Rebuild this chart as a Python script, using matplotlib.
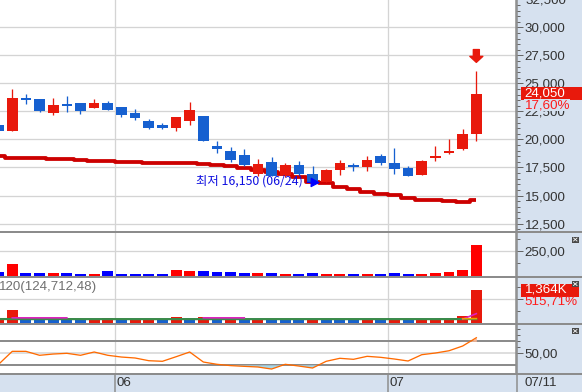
import numpy as np
import matplotlib
matplotlib.use("Agg")
import matplotlib.pyplot as plt
from matplotlib.patches import Rectangle
from matplotlib.lines import Line2D
import matplotlib.transforms as mtrans

plt.rcParams['font.family'] = ['Liberation Sans Narrow', 'Liberation Sans', 'DejaVu Sans']

# ---------------- data ----------------
opens = [21280, 20770, 23650, 23600, 22370, 23110, 23240, 22820, 23240, 22880, 22350, 21630,
         21280, 21030, 21660, 22080, 19430, 18950, 18600, 16900, 17970, 16810, 17700, 16960,
         16210, 17260, 17730, 17550, 18530, 17880, 17440, 16870, 18390, 18800, 19160, 20450]
highs = [21300, 24520, 24040, 23600, 23690, 23870, 23240, 23600, 23450, 22880, 22700, 21810,
         21450, 21990, 23330, 22080, 19850, 19340, 19130, 18240, 18450, 17860, 18120, 17610,
         17410, 18150, 17880, 18510, 18660, 19250, 17640, 18150, 19430, 20030, 20950, 26100]
lows = [20700, 20770, 23120, 22440, 22170, 22460, 22290, 22820, 22640, 22020, 21750, 20950,
        20950, 20770, 21300, 19870, 18800, 18000, 17640, 16750, 16780, 16630, 16870, 16150,
        16210, 16840, 17200, 17170, 17730, 16930, 16720, 16870, 18090, 18660, 19040, 19870]
closes = [20770, 23700, 23600, 22530, 23060, 23070, 22550, 23240, 22640, 22140, 21900, 21030,
          21010, 21990, 22640, 19870, 19160, 18210, 17730, 17790, 16780, 17700, 16960, 16210,
          17320, 17940, 17590, 18150, 17910, 17370, 16750, 18060, 18530, 18950, 20450, 24050]
ma_line = [18510, 18390, 18360, 18330, 18270, 18270, 18210, 18120, 18090, 18030, 17970, 17910,
           17880, 17880, 17880, 17770, 17680, 17590, 17460, 17320, 17140, 16930, 16630, 16210,
           16100, 15770, 15560, 15350, 15180, 15020, 14820, 14640, 14580, 14490, 14460, 14580]
volume = [41, 123, 31, 31, 31, 31, 20, 20, 51, 20, 20, 20, 20, 62, 51, 51, 41, 41,
          31, 31, 31, 20, 20, 31, 20, 20, 20, 20, 20, 31, 20, 20, 31, 41, 62, 318]
vol_k = [150, 530, 140, 135, 130, 125, 120, 140, 200, 150, 155, 160, 140, 245, 200, 245, 150, 160,
         140, 150, 140, 130, 125, 140, 130, 125, 120, 140, 130, 145, 135, 150, 165, 200, 280, 1364]
vol_ma_long = [152, 152, 151, 151, 151, 151, 150, 150, 150, 150, 150, 150, 150, 150, 150, 150, 150, 150,
               150, 150, 150, 150, 150, 150, 150, 150, 150, 150, 150, 150, 150, 150, 150, 151, 151, 152]
vol_ma_short = [np.nan, 205, 205, 205, 205, 205, np.nan, np.nan, np.nan, np.nan, np.nan, np.nan,
                np.nan, np.nan, np.nan, 205, 205, 205, 205, np.nan, np.nan, np.nan, np.nan, np.nan,
                np.nan, np.nan, np.nan, np.nan, np.nan, np.nan, np.nan, np.nan, np.nan, np.nan, 150, 380]
vol_ma_mid = [np.nan] * 34 + [168, 172]
osc = [31.7, 53.3, 53.3, 46.7, 48.8, 50.0, 46.7, 52.2, 46.7, 43.8, 42.2, 37.7, 36.7, 44.3, 52.2, 35.5,
       31.7, 29.5, 28.3, 27.2, 23.8, 31.7, 28.8, 25.5, 36.7, 41.7, 40.0, 45.0, 43.3, 40.5, 37.2, 47.7,
       50.5, 54.3, 62.2, 76.0]
month_first_idx = [9, 29]
month_labels = ['06', '07']
low_date = '06/24'
last_date = '07/11'
vol_ma_label = '120(124,712,48)'
vol_change_label = '515,71%'
price_ticks = [12500, 15000, 17500, 20000, 22500, 25000, 27500, 30000]
top_price_label = 32500

# ---------------- layout ----------------
W, H, DPI = 582, 392, 100
fig = plt.figure(figsize=(W / DPI, H / DPI), dpi=DPI)
fig.patch.set_facecolor('white')
AXIS_BG = '#d6e1ef'
RED = '#e8190c'
BLUE = '#1660d0'
GRID = '#d4d4d4'
SEP = '#8c8c8c'
TXT = '#333333'
RIGHT = 516
PX = 72.0 / DPI  # points per pixel

def fx(x):
    return x / W

def fy(y):
    return 1 - y / H

fig.patches.append(Rectangle((fx(RIGHT), 0), 1 - fx(RIGHT), 1, transform=fig.transFigure,
                             facecolor=AXIS_BG, edgecolor='none', zorder=-10))
fig.patches.append(Rectangle((0, 0), 1, fy(374), transform=fig.transFigure,
                             facecolor=AXIS_BG, edgecolor='none', zorder=-10))

def axes_px(y0, y1):
    return fig.add_axes([0, fy(y1), fx(RIGHT), (y1 - y0) / H])

ax1 = axes_px(0, 231.3)
ax2 = axes_px(233.3, 276)
ax3 = axes_px(278, 323)
ax4 = axes_px(325, 373)

n = len(closes)
idx = np.arange(n)
SPACING = 13.676
X0 = -1.4
xlim = ((0 - X0) / SPACING, (RIGHT + 1 - X0) / SPACING)
o = np.array(opens, float); c = np.array(closes, float)
hi = np.array(highs, float); lo = np.array(lows, float)
up = c >= o
ccol = np.where(up, RED, BLUE)

for ax in (ax1, ax2, ax3, ax4):
    ax.set_xlim(*xlim)
    ax.set_facecolor('white')
    for s in ('left', 'top', 'bottom'):
        ax.spines[s].set_visible(False)
    ax.spines['right'].set_color(SEP)
    ax.spines['right'].set_linewidth(1.5 * PX)
    ax.set_xticks([])
    ax.yaxis.tick_right()
    ax.tick_params(axis='y', which='major', length=7 * PX, width=1.0 * PX, color='#666666',
                   pad=1.2, labelsize=9.6, labelcolor=TXT)
    ax.tick_params(axis='y', which='minor', length=3.5 * PX, width=1.0 * PX, color='#666666')
    for m in month_first_idx:
        ax.axvline(m - 0.5, color=GRID, lw=1.3 * PX, zorder=0.5)

# ---- main price panel ----
ax1.set_ylim(11810, 32438)
ax1.set_yticks(price_ticks)
ax1.set_yticklabels([f"{v:,}" for v in price_ticks])
ax1.set_yticks(np.arange(12000, 32500, 500), minor=True)
for v in price_ticks:
    ax1.axhline(v, color=GRID, lw=1.3 * PX, zorder=0.5)
# partially visible top label (clipped by the figure edge)
ax1.text(1.0 + 9.0 / RIGHT, top_price_label, f"{top_price_label:,}",
         transform=mtrans.blended_transform_factory(ax1.transAxes, ax1.transData),
         ha='left', va='center_baseline', fontsize=9.6, color=TXT, clip_on=False)

ax1.plot(idx, ma_line, color='#cc0000', lw=4 * PX * 0.95, drawstyle='steps-mid',
         solid_capstyle='butt', zorder=2)
ax1.vlines(idx, lo, hi, colors=ccol, lw=1.3 * PX, zorder=3)
bh = np.maximum(np.abs(c - o), 170)
ax1.bar(idx, bh, bottom=(o + c) / 2 - bh / 2, width=0.78, color=ccol, zorder=4)

# low annotation
i_low = int(np.argmin(lo))
ax1.annotate(f"최저 {int(lo[i_low]):,} ({low_date})", xy=(i_low + 0.55, lo[i_low]),
             xytext=(-17 * PX, 1.5 * PX), textcoords='offset points', ha='right', va='center',
             fontsize=8.9, color='#1010e0',
             family=['Noto Sans CJK KR', 'DejaVu Sans'],
             arrowprops=dict(arrowstyle='-|>,head_length=0.55,head_width=0.3', color='#0000ff',
                             lw=1.2 * PX, shrinkA=1, shrinkB=0, mutation_scale=10), zorder=6)

# red arrow above last candle
t_tip = ax1.transData + mtrans.ScaledTranslation(0, 8.7 / DPI, fig.dpi_scale_trans)
t_tail = ax1.transData + mtrans.ScaledTranslation(0, 21.5 / DPI, fig.dpi_scale_trans)
ax1.annotate('', xy=(idx[-1], hi[-1]), xycoords=t_tip, xytext=(idx[-1], hi[-1]), textcoords=t_tail,
             arrowprops=dict(facecolor=RED, edgecolor=RED, width=6 * PX, headwidth=13 * PX,
                             headlength=6 * PX, shrink=0), zorder=6)

# ---- volume panel ----
vcol = np.where(up, '#ff0000', '#0000ff')
ax2.set_ylim(-3, 434)
ax2.set_yticks([250])
ax2.set_yticklabels(['250,00'])
ax2.set_yticks([0, 125, 375], minor=True)
ax2.axhline(250, color=GRID, lw=1.3 * PX, zorder=0.5)
ax2.bar(idx, volume, width=0.8, color=vcol, zorder=3)

# ---- volume(K) panel ----
vk = np.array(vol_k, float)
vk_up = np.concatenate([[True], vk[1:] >= vk[:-1]])
ax3.set_ylim(-13, 1878)
ax3.set_yticks([1000])
ax3.set_yticklabels([''])
ax3.set_yticks([0, 500, 1500], minor=True)
ax3.axhline(1000, color=GRID, lw=1.3 * PX, zorder=0.5)
ax3.bar(idx, vk, width=0.8, color=np.where(vk_up, RED, BLUE), zorder=3)
ax3.plot(idx, vol_ma_long, color='#3a8a4a', lw=2.2 * PX, zorder=4)
ax3.plot(idx, vol_ma_short, color='#e020c0', lw=1.6 * PX, zorder=5)
ax3.plot(idx, vol_ma_mid, color='#f0a000', lw=1.6 * PX, zorder=5)
ax3.text(-1.5 / RIGHT, 0.81, vol_ma_label, transform=ax3.transAxes, ha='left', va='center',
         fontsize=9.6, color='#707070')

# ---- oscillator panel ----
ov = np.array(osc)
ax4.set_ylim(17.2, 97.2)
ax4.set_yticks([50])
ax4.set_yticklabels(['50,00'])
ax4.set_yticks([60, 70, 80, 90], minor=True)
ax4.axhline(70, color=SEP, lw=2 * PX, zorder=1)
ax4.axhline(30, color=SEP, lw=2 * PX, zorder=1)
ax4.axhline(50, color=GRID, lw=1.5 * PX, zorder=0.8)
ax4.fill_between(idx, ov, 30, where=ov < 30, interpolate=True, color='#a6d8ea', lw=0, zorder=2)
ax4.fill_between(idx, ov, 70, where=ov > 70, interpolate=True, color='#f6b696', lw=0, zorder=2)
ax4.plot(idx, ov, color='#ff6a00', lw=1.3 * PX, zorder=3)

fig.canvas.draw()

def data_to_px(ax, x, y):
    dx, dy = ax.transData.transform((x, y))
    return dx, H - dy

# value boxes on axis
_, yc = data_to_px(ax1, 0, c[-1])
fig.patches.append(Rectangle((fx(521), fy(yc + 5.5)), 1 - fx(521), 12.5 / H, transform=fig.transFigure,
                             facecolor=RED, edgecolor='none', zorder=5))
fig.text(fx(524.5), fy(yc - 0.5), f"{int(c[-1]):,}", color='white', fontsize=9.6, ha='left', va='center', zorder=6)
pct = (c[-1] / c[-2] - 1) * 100
fig.text(fx(524.5), fy(yc + 11.0), f"{pct:.2f}%".replace('.', ','), color='#ff1a1a', fontsize=9.6,
         ha='left', va='center', zorder=6,
         bbox=dict(facecolor=AXIS_BG, edgecolor='none', pad=0.2))

_, yk = data_to_px(ax3, 0, vk[-1])
fig.patches.append(Rectangle((fx(521), fy(yk + 6.3)), fx(579 - 521), 12.7 / H, transform=fig.transFigure,
                             facecolor=RED, edgecolor='none', zorder=5))
fig.text(fx(524.5), fy(yk - 0.5), f"{int(vk[-1]):,}K", color='white', fontsize=9.6, ha='left', va='center', zorder=6)
fig.text(fx(524.5), fy(yk + 11.5), vol_change_label, color='#ff1a1a', fontsize=9.6, ha='left', va='center', zorder=6)

# separators
for ys in (232.3, 277, 324, 374):
    fig.add_artist(Line2D([0, 1], [fy(ys), fy(ys)], transform=fig.transFigure, color=SEP, lw=2 * PX, zorder=7))
fig.add_artist(Line2D([fx(RIGHT + 0.5)] * 2, [0, 1], transform=fig.transFigure, color=SEP, lw=1.5 * PX, zorder=7))

# bottom date strip
for m, lab in zip(month_first_idx, month_labels):
    xm, _ = data_to_px(ax4, m - 0.5, 50)
    fig.add_artist(Line2D([fx(xm)] * 2, [0, fy(374)], transform=fig.transFigure, color=SEP, lw=1.5 * PX, zorder=7))
    fig.text(fx(xm + 2), fy(382.5), lab, color=TXT, fontsize=9.6, ha='left', va='center')
fig.text(fx(524.5), fy(382.5), last_date, color=TXT, fontsize=9.6, ha='left', va='center')

# close buttons
for yb in (236.5, 281, 328):
    fig.patches.append(Rectangle((fx(571.5), fy(yb + 6)), fx(7.5), 6 / H, transform=fig.transFigure,
                                 facecolor='#4a4a4a', edgecolor='none', zorder=8))
    fig.add_artist(Line2D([fx(573.5), fx(577)], [fy(yb + 1.5), fy(yb + 4.5)], transform=fig.transFigure,
                          color='white', lw=0.8 * PX, zorder=9))
    fig.add_artist(Line2D([fx(573.5), fx(577)], [fy(yb + 4.5), fy(yb + 1.5)], transform=fig.transFigure,
                          color='white', lw=0.8 * PX, zorder=9))

fig.savefig('out.png', dpi=DPI)
